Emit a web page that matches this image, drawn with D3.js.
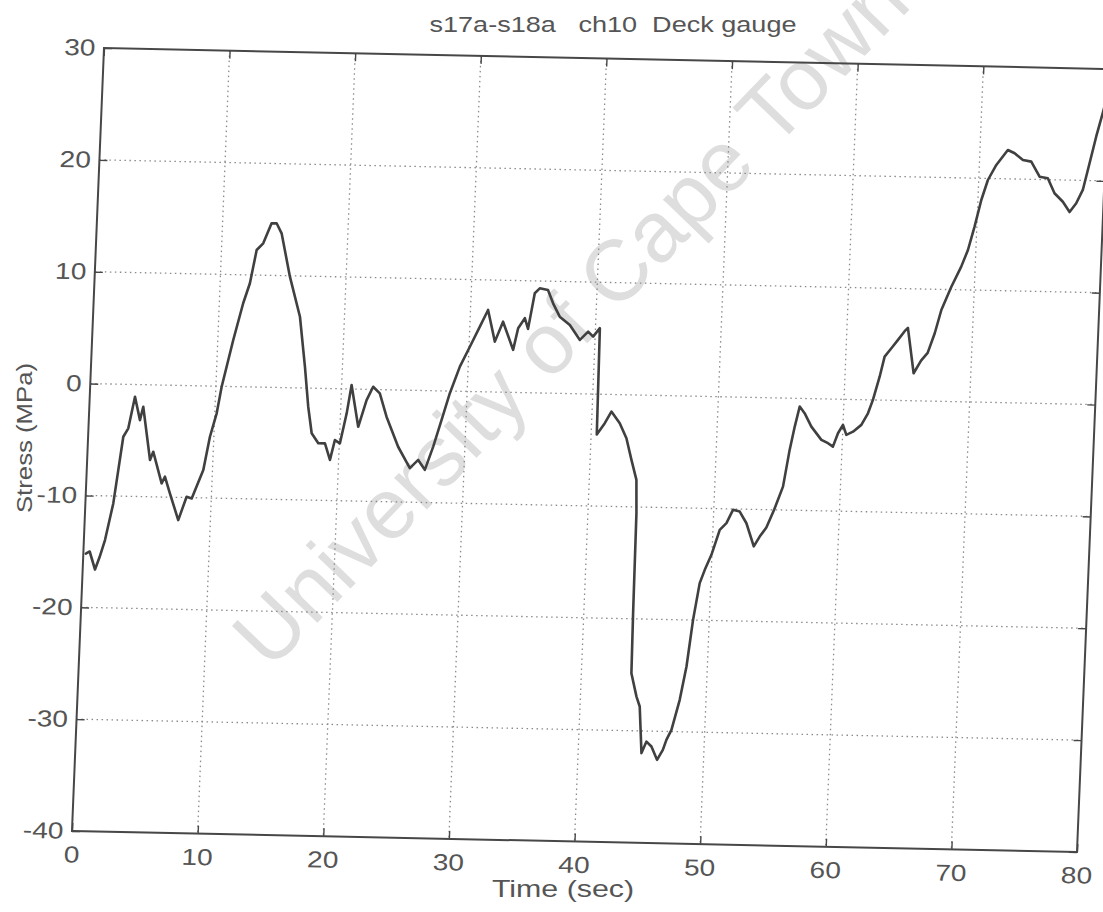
<!DOCTYPE html>
<html>
<head>
<meta charset="utf-8">
<script src="https://cdn.jsdelivr.net/npm/d3@7"></script>
<style>
  html, body { margin: 0; padding: 0; background: #fff; }
  svg { display: block; font-family: "Liberation Sans", Arial, Helvetica, sans-serif; }
</style>
</head>
<body>
<svg id="chart" width="1103" height="912"></svg>
<script>
// Stress record, channel 10 (deck gauge), run s17a-s18a
const timeSec = [
  0.2, 0.5, 0.98, 1.3, 1.68, 2.22, 2.8, 3.17, 3.6, 4.07, 4.29, 5.0, 5.23, 6.0, 6.24, 6.69,
  7.44, 8.03, 8.44, 9.27, 9.69, 10.15, 10.46, 11.23, 11.9, 12.37, 12.8, 13.3, 13.9, 14.3,
  14.73, 15.53, 16.46, 17.02, 17.41, 17.77, 18.33, 18.86, 19.31, 19.64, 20.05, 20.49, 20.79,
  21.45, 22.03, 22.51, 23.06, 23.67, 24.69, 25.69, 26.33, 26.89, 27.48, 28.06, 28.63, 29.34,
  30.07, 30.8, 31.4, 32.04, 32.63, 33.52, 33.85, 34.35, 34.64, 35.06, 35.44, 36.1, 36.55,
  37.12, 37.95, 38.8, 39.43, 39.84, 40.35, 40.45, 41.05, 41.54, 42.24, 42.82, 43.29, 43.75,
  43.86, 43.92, 43.98, 44.46, 44.75, 45.04, 45.4, 45.81, 46.3, 46.73, 46.98, 47.35, 47.91,
  48.34, 48.71, 49.12, 49.48, 49.96, 50.54, 51.05, 51.53, 52.07, 52.64, 53.3, 53.74, 54.24,
  54.8, 55.43, 55.84, 56.17, 56.5, 56.91, 57.49, 58.33, 58.87, 59.27, 59.63, 60.0, 60.3,
  60.82, 61.46, 61.95, 62.3, 62.76, 63.09, 63.6, 64.1, 64.6, 64.85, 65.45, 66.0, 66.5, 67.0,
  67.45, 68.17, 68.89, 69.37, 69.82, 70.27, 70.73, 71.35, 72.22, 72.77, 73.45, 74.12, 74.83,
  75.49, 76.07, 76.76, 77.33, 77.83, 78.31, 78.76, 79.2, 79.64, 80.0
];
const stressMPa = [
  -15.2, -15.0, -16.6, -15.5, -13.95, -10.66, -4.69, -3.93, -1.09, -3.17, -1.97, -6.72, -5.97,
  -8.78, -8.18, -9.66, -12.03, -9.93, -10.07, -7.51, -4.53, -2.42, -0.04, 4.16, 7.46, 9.26,
  12.24, 12.85, 14.65, 14.67, 13.78, 9.92, 6.36, 1.9, -1.66, -4.03, -4.91, -4.9, -6.37, -4.59,
  -4.87, -2.18, 0.36, -3.36, -0.96, 0.24, -0.33, -2.41, -5.07, -6.96, -6.21, -7.08, -4.99,
  -2.59, -0.19, 2.2, 4.0, 5.81, 7.32, 4.5, 6.3, 3.8, 5.74, 6.65, 5.7, 8.9, 9.35, 9.21, 8.03,
  6.85, 6.13, 4.81, 5.57, 5.13, 5.9, -3.6, -2.58, -1.53, -2.55, -3.88, -5.81, -7.59,
  -10.56, -19.5, -24.86, -26.94, -27.82, -31.98, -30.94, -31.37, -32.55, -31.65, -30.75,
  -29.85, -27.15, -24.16, -19.98, -16.69, -15.49, -14.14, -11.89, -11.28, -10.08, -10.22,
  -11.25, -13.3, -12.42, -11.6, -10.0, -7.91, -4.62, -2.53, -0.73, -1.31, -2.5, -3.66, -3.95,
  -4.25, -3.04, -2.29, -3.17, -2.87, -2.25, -1.2, 0.0, 2.09, 3.89, 4.65, 5.41, 6.2, 6.5, 2.46,
  3.6, 4.3, 6.07, 8.16, 10.26, 12.07, 13.57, 15.67, 18.06, 19.86, 21.22, 22.58, 22.3, 21.71,
  21.58, 20.25, 20.13, 18.8, 18.06, 17.15, 17.95, 19.15, 21.54, 23.93, 26.03, 27.8
];

const xTickValues = [0, 10, 20, 30, 40, 50, 60, 70, 80];
const yTickValues = [-40, -30, -20, -10, 0, 10, 20, 30];

const chartTitle = "s17a-s18a   ch10  Deck gauge";
const xAxisTitle = "Time (sec)";
const yAxisTitle = "Stress (MPa)";
const watermarkText = "University of Cape Town";

// Plot frame size in its own (untilted) coordinates
const W = 1005, H = 783;
const ink = "#474747";
const textInk = "#555";

const x = d3.scaleLinear().domain([0, 80]).range([0, W]);
const y = d3.scaleLinear().domain([-40, 30]).range([H, 0]);

const svg = d3.select("#chart");

// Light diagonal watermark behind everything
svg.append("text")
  .attr("transform", "translate(570,318) rotate(-46)")
  .attr("text-anchor", "middle")
  .attr("dominant-baseline", "central")
  .attr("font-size", 86)
  .attr("fill", "#dedede")
  .text(watermarkText);

// The axes sit on a slightly tilted sheet
const plot = svg.append("g")
  .attr("transform", "matrix(1,0.0209,-0.0409,1,104,48)");

// Dotted grid
const grid = plot.append("g")
  .attr("stroke", "#8a8a8a")
  .attr("stroke-width", 1.3)
  .attr("stroke-dasharray", "1.5,3.5");
grid.selectAll("line.v")
  .data(xTickValues.slice(1, -1))
  .join("line").attr("class", "v")
  .attr("x1", d => x(d)).attr("x2", d => x(d))
  .attr("y1", 0).attr("y2", H);
grid.selectAll("line.h")
  .data(yTickValues.slice(1, -1))
  .join("line").attr("class", "h")
  .attr("x1", 0).attr("x2", W)
  .attr("y1", d => y(d)).attr("y2", d => y(d));

// Stress trace
plot.append("path")
  .datum(d3.zip(timeSec, stressMPa))
  .attr("fill", "none")
  .attr("stroke", "#404040")
  .attr("stroke-width", 2.6)
  .attr("stroke-linejoin", "round")
  .attr("stroke-linecap", "round")
  .attr("d", d3.line().x(d => x(d[0])).y(d => y(d[1])));

// Axes with inward ticks; labels use a plain hyphen for negatives
const fmt = d => String(d);
const xAxis = plot.append("g")
  .attr("transform", `translate(0,${H})`)
  .call(d3.axisBottom(x).tickValues(xTickValues).tickFormat(fmt)
    .tickSizeInner(-8).tickSizeOuter(0).tickPadding(15));
const yAxis = plot.append("g")
  .call(d3.axisLeft(y).tickValues(yTickValues).tickFormat(fmt)
    .tickSizeInner(-8).tickSizeOuter(0).tickPadding(7));
const xTop = plot.append("g")
  .call(d3.axisTop(x).tickValues(xTickValues).tickFormat("").tickSizeInner(-8).tickSizeOuter(0));
const yRight = plot.append("g")
  .attr("transform", `translate(${W},0)`)
  .call(d3.axisRight(y).tickValues(yTickValues).tickFormat("").tickSizeInner(-8).tickSizeOuter(0));

[xAxis, yAxis, xTop, yRight].forEach(g => {
  g.select(".domain").remove();
  g.selectAll(".tick line").attr("stroke", ink).attr("stroke-width", 1.4);
  g.selectAll(".tick text")
    .attr("fill", textInk)
    .attr("font-size", 23)
    .attr("font-family", "\"Liberation Sans\", Arial, sans-serif")
    .attr("transform", "scale(1.22,1)");
});

// Frame
plot.append("rect")
  .attr("x", 0).attr("y", 0).attr("width", W).attr("height", H)
  .attr("fill", "none").attr("stroke", ink).attr("stroke-width", 2);

// Titles
svg.append("text")
  .attr("x", 613).attr("y", 32)
  .attr("text-anchor", "middle")
  .attr("font-size", 22)
  .attr("fill", textInk)
  .attr("textLength", 367)
  .attr("lengthAdjust", "spacingAndGlyphs")
  .style("white-space", "pre")
  .text(chartTitle);

svg.append("text")
  .attr("transform", "translate(563,897) scale(1.32,1)")
  .attr("text-anchor", "middle")
  .attr("font-size", 23)
  .attr("fill", textInk)
  .text(xAxisTitle);

svg.append("text")
  .attr("transform", "translate(32,438) rotate(-90) scale(1.17,1)")
  .attr("text-anchor", "middle")
  .attr("font-size", 22)
  .attr("fill", textInk)
  .text(yAxisTitle);
</script>
</body>
</html>
